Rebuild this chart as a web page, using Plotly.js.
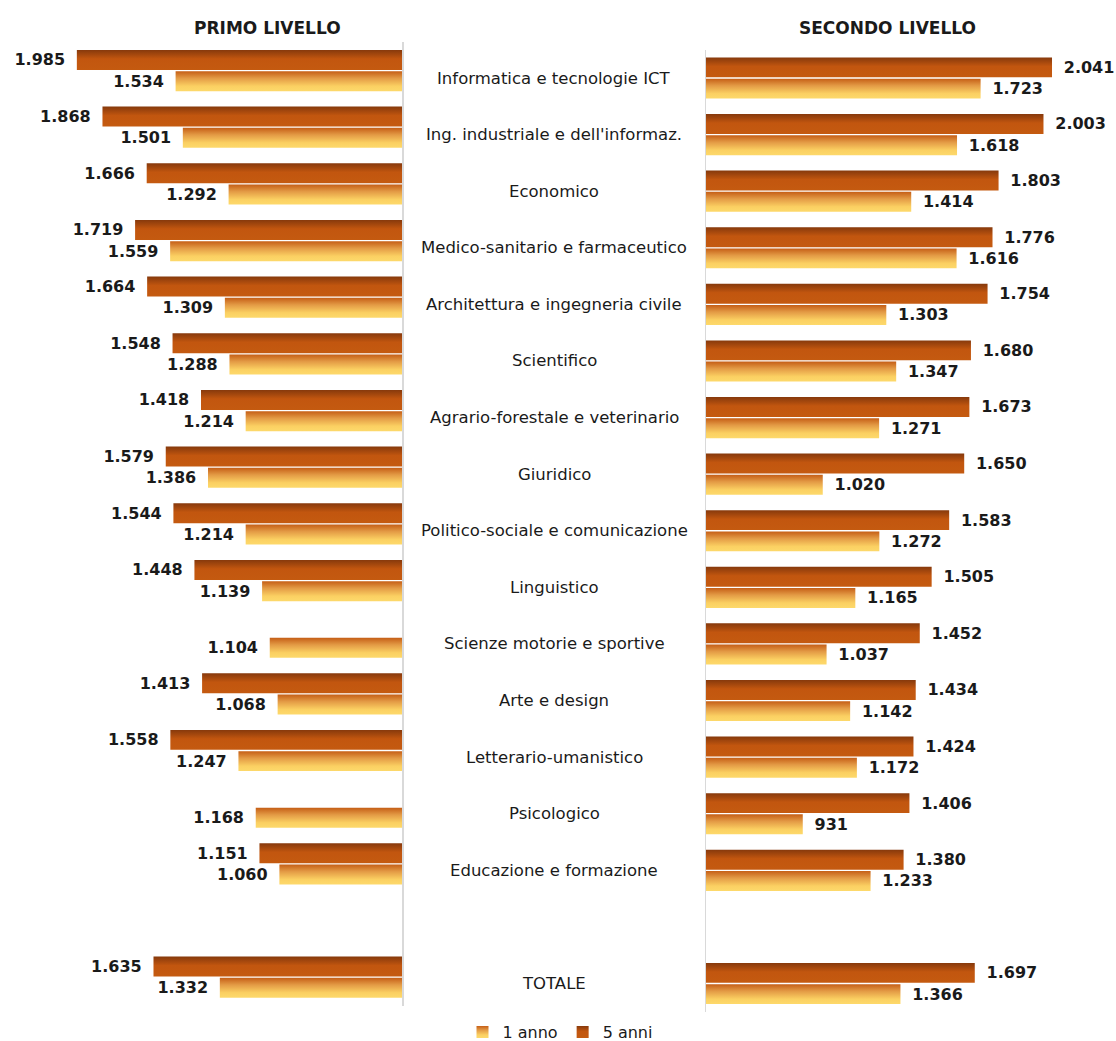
<!DOCTYPE html>
<html>
<head>
<meta charset="utf-8">
<script src="https://cdn.plot.ly/plotly-3.0.1.min.js"></script>
<style>
html,body{margin:0;padding:0;background:#fff;}
#chart{width:1116px;height:1041px;}
</style>
</head>
<body>
<div id="chart"></div>
<script>
// ---- data ----
const categories = [
  "Informatica e tecnologie ICT",
  "Ing. industriale e dell'informaz.",
  "Economico",
  "Medico-sanitario e farmaceutico",
  "Architettura e ingegneria civile",
  "Scientifico",
  "Agrario-forestale e veterinario",
  "Giuridico",
  "Politico-sociale e comunicazione",
  "Linguistico",
  "Scienze motorie e sportive",
  "Arte e design",
  "Letterario-umanistico",
  "Psicologico",
  "Educazione e formazione",
  " ",
  "TOTALE"
];
const primo5anni = [1985,1868,1666,1719,1664,1548,1418,1579,1544,1448,null,1413,1558,null,1151,null,1635];
const primo1anno = [1534,1501,1292,1559,1309,1288,1214,1386,1214,1139,1104,1068,1247,1168,1060,null,1332];
const secondo5anni = [2041,2003,1803,1776,1754,1680,1673,1650,1583,1505,1452,1434,1424,1406,1380,null,1697];
const secondo1anno = [1723,1618,1414,1616,1303,1347,1271,1020,1272,1165,1037,1142,1172,931,1233,null,1366];
const seriesNames = ["1 anno", "5 anni"];
const panelTitles = ["PRIMO LIVELLO", "SECONDO LIVELLO"];

// ---- style ----
const C5 = "rgb(180, 80, 15)";
const C1 = "rgb(240, 180, 80)";
const W = 1116, H = 1041;
const GAP = "\u00a0\u2009";
const valFont = {family: "DejaVu Sans", size: 16, color: "#1a1a1a", weight: "bold"};

function barTrace(vals, name, color, xa, ya, side, showlegend) {
  return {
    type: "bar", orientation: "h",
    x: vals, y: categories, name: name,
    xaxis: xa, yaxis: ya,
    marker: {color: color, line: {width: 0}},
    texttemplate: side === "left" ? "%{x:,}" + GAP : GAP + "%{x:,}",
    textposition: "outside",
    textfont: valFont,
    constraintext: "none",
    cliponaxis: false,
    showlegend: showlegend,
    hoverinfo: "skip"
  };
}

const data = [
  barTrace(primo5anni, seriesNames[1], C5, "x", "y", "left", false),
  barTrace(primo1anno, seriesNames[0], C1, "x", "y", "left", false),
  barTrace(secondo5anni, seriesNames[1], C5, "x2", "y2", "right", true),
  barTrace(secondo1anno, seriesNames[0], C1, "x2", "y2", "right", true)
];

const annotations = [];
categories.forEach(c => {
  if (c.trim() === "") return;
  annotations.push({
    xref: "paper", yref: "y2", x: 554 / W, y: c, text: c,
    showarrow: false, xanchor: "center", yanchor: "middle",
    font: {family: "DejaVu Sans", size: 16.5, color: "#1a1a1a"}
  });
});
annotations.push({xref: "paper", yref: "paper", x: 267 / W, y: 1 - 28 / H, text: "<b>" + panelTitles[0] + "</b>",
  showarrow: false, xanchor: "center", yanchor: "middle", font: {family: "DejaVu Sans", size: 17, color: "#1a1a1a"}});
annotations.push({xref: "paper", yref: "paper", x: 887 / W, y: 1 - 28 / H, text: "<b>" + panelTitles[1] + "</b>",
  showarrow: false, xanchor: "center", yanchor: "middle", font: {family: "DejaVu Sans", size: 17, color: "#1a1a1a"}});

const yBase = {
  type: "category", categoryorder: "array", categoryarray: categories,
  range: [categories.length - 0.5, -0.5],
  showticklabels: false, ticks: "", showgrid: false, zeroline: false,
  showline: true, linecolor: "#d9d9d9", linewidth: 1.5, fixedrange: true
};
const xBase = {showticklabels: false, ticks: "", showgrid: false, zeroline: false, showline: false, fixedrange: true};

const layout = {
  width: W, height: H,
  margin: {l: 0, r: 0, t: 0, b: 0, autoexpand: false},
  paper_bgcolor: "#fff", plot_bgcolor: "rgba(0,0,0,0)",
  separators: ",.",
  barmode: "group", bargap: 0.25, bargroupgap: 0.06,
  font: {family: "DejaVu Sans", color: "#1a1a1a"},
  xaxis: Object.assign({}, xBase, {domain: [0, 402 / W], range: [2336, 500], anchor: "y"}),
  yaxis: Object.assign({}, yBase, {domain: [1 - 1005.5 / H, 1 - 42.2 / H], anchor: "x", side: "right"}),
  xaxis2: Object.assign({}, xBase, {domain: [706 / W, 1], range: [500, 2326], anchor: "y2"}),
  yaxis2: Object.assign({}, yBase, {domain: [1 - 1011.8 / H, 1 - 49.7 / H], anchor: "x2", side: "left"}),
  showlegend: true,
  legend: {orientation: "h", traceorder: "reversed", x: 560 / W, xanchor: "center", y: 1 - 1032 / H, yanchor: "middle",
    font: {family: "DejaVu Sans", size: 16, color: "#1a1a1a"}, itemwidth: 30, bgcolor: "rgba(0,0,0,0)"},
  annotations: annotations
};

const gd = document.getElementById("chart");
function applyGradients() {
  const svg = gd.querySelector("svg.main-svg");
  if (!svg) return;
  const ns = "http://www.w3.org/2000/svg";
  if (!document.getElementById("g5")) {
    let defs = svg.querySelector("defs");
    if (!defs) { defs = document.createElementNS(ns, "defs"); svg.insertBefore(defs, svg.firstChild); }
    const mk = (id, stops) => {
      const lg = document.createElementNS(ns, "linearGradient");
      lg.setAttribute("id", id);
      lg.setAttribute("x1", "0"); lg.setAttribute("y1", "0"); lg.setAttribute("x2", "0"); lg.setAttribute("y2", "1");
      stops.forEach(s => {
        const st = document.createElementNS(ns, "stop");
        st.setAttribute("offset", s[0]); st.setAttribute("stop-color", s[1]);
        lg.appendChild(st);
      });
      defs.appendChild(lg);
    };
    mk("g5", [["0", "#86390c"], ["0.45", "#c2560f"], ["1", "#c45a10"]]);
    mk("g1", [["0", "#c55e16"], ["0.35", "#e39a45"], ["0.75", "#fbd062"], ["1", "#fdd96b"]]);
  }
  gd.querySelectorAll(".barlayer path, .legend .legendpoints path").forEach(p => {
    const f = p.style.fill;
    if (f === C5) p.style.fill = "url(#g5)";
    else if (f === C1) p.style.fill = "url(#g1)";
  });
}
Plotly.newPlot(gd, data, layout, {staticPlot: true}).then(applyGradients);
</script>
</body>
</html>
